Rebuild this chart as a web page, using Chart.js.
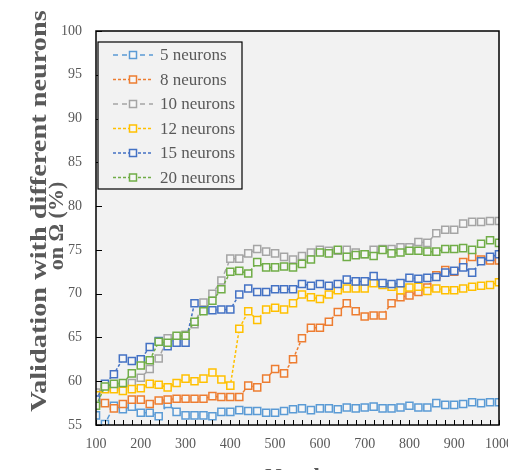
<!DOCTYPE html>
<html>
<head>
<meta charset="utf-8">
<script src="https://cdn.jsdelivr.net/npm/chart.js@4/dist/chart.umd.min.js"></script>
<style>
  html, body { margin: 0; padding: 0; background: #fff; overflow: hidden; }
  #wrap { width: 508px; height: 470px; position: relative; }
</style>
</head>
<body>
<div id="wrap"><canvas id="myChart"></canvas></div>
<script>
// x positions (every 20 from 100 to 1000)
const epochs = [];
for (let e = 100; e <= 1000; e += 20) epochs.push(e);

const xTicks = [100, 200, 300, 400, 500, 600, 700, 800, 900, 1000];
const yTicks = [55, 60, 65, 70, 75, 80, 85, 90, 95, 100];

const seriesNames = ['5 neurons', '8 neurons', '10 neurons', '12 neurons', '15 neurons', '20 neurons'];
const seriesColors = ['#5B9BD5', '#ED7D31', '#A5A5A5', '#FFC000', '#4472C4', '#70AD47'];

const n5 = [56.1, 55.1, 57.2, 56.8, 57.1, 56.4, 56.4, 56.0, 57.4, 56.5,
  56.1, 56.1, 56.1, 56.0, 56.5, 56.5, 56.7, 56.6, 56.6, 56.4,
  56.4, 56.6, 56.8, 56.9, 56.7, 56.9, 56.9, 56.8, 57.0, 56.9,
  57.0, 57.1, 56.9, 56.9, 57.0, 57.2, 57.0, 57.0, 57.5, 57.3,
  57.3, 57.4, 57.6, 57.5, 57.6, 57.6];
const n8 = [57.5, 57.5, 56.9, 57.4, 57.9, 57.9, 57.4, 57.8, 57.9, 58.0,
  58.0, 58.0, 58.0, 58.3, 58.2, 58.2, 58.2, 59.5, 59.3, 60.3,
  61.4, 60.9, 62.5, 64.9, 66.1, 66.1, 66.8, 67.9, 68.9, 68.0,
  67.4, 67.5, 67.5, 68.9, 69.6, 69.8, 70.2, 70.7, 72.1, 72.7,
  72.5, 73.6, 74.2, 73.9, 73.8, 73.8];
const n10 = [58.7, 59.4, 59.2, 59.4, 59.8, 60.4, 61.4, 62.6, 64.9, 65.0,
  65.3, 66.5, 69.0, 70.0, 71.5, 74.0, 74.0, 74.6, 75.1, 74.8,
  74.6, 74.2, 73.9, 74.3, 74.7, 75.0, 74.9, 74.9, 75.0, 74.7,
  74.5, 75.0, 75.1, 75.1, 75.3, 75.3, 75.9, 75.8, 76.9, 77.3,
  77.3, 78.0, 78.2, 78.2, 78.3, 78.3];
const n12 = [58.4, 59.1, 59.1, 58.9, 59.1, 59.2, 59.7, 59.6, 59.3, 59.8,
  60.3, 60.0, 60.3, 61.0, 60.2, 59.5, 66.0, 68.0, 67.0, 68.2,
  68.4, 68.2, 68.9, 69.9, 69.6, 69.4, 69.9, 70.4, 70.6, 70.6,
  70.6, 71.2, 71.0, 70.8, 70.4, 70.7, 70.8, 70.3, 70.6, 70.4,
  70.4, 70.6, 70.8, 70.9, 71.0, 71.3];
const n15 = [57.9, 59.7, 60.8, 62.6, 62.3, 62.5, 63.9, 64.6, 64.0, 64.4,
  64.4, 68.9, 68.1, 68.1, 68.2, 68.2, 69.9, 70.6, 70.2, 70.2,
  70.5, 70.5, 70.5, 71.1, 70.9, 71.1, 70.9, 71.1, 71.6, 71.4,
  71.4, 72.0, 71.2, 71.1, 71.2, 71.8, 71.7, 71.8, 71.9, 72.4,
  72.6, 73.0, 72.4, 73.7, 74.2, 74.5];
const n20 = [57.2, 59.4, 59.7, 59.8, 60.9, 61.8, 62.4, 64.5, 64.4, 65.2,
  65.2, 66.8, 68.0, 69.2, 70.5, 72.5, 72.6, 72.3, 73.6, 73.0,
  73.0, 73.1, 73.0, 73.4, 73.9, 74.7, 74.6, 75.0, 74.2, 74.4,
  74.5, 74.3, 75.0, 74.6, 74.7, 74.9, 74.9, 74.8, 74.8, 75.1,
  75.1, 75.2, 75.0, 75.7, 76.1, 75.8];

const allSeries = [n5, n8, n10, n12, n15, n20];
const dashes = [[5, 4], [3, 2], [5, 4], [3, 2], [3, 2], [3, 2]];

const labelColor = '#595959';
const serif = "'Liberation Serif', 'Times New Roman', serif";

const datasets = allSeries.map((vals, i) => ({
  label: seriesNames[i],
  data: vals.map((v, k) => ({ x: epochs[k], y: v })),
  borderColor: seriesColors[i],
  pointBorderColor: seriesColors[i],
  pointBackgroundColor: '#f6f6f6',
  borderWidth: 1.5,
  borderDash: dashes[i],
  pointStyle: 'rect',
  pointRadius: 5,
  pointBorderWidth: 1.5,
  tension: 0,
  fill: false,
  order: allSeries.length - i
}));

// frame, ticks, legend and axis titles
const decor = {
  id: 'decor',
  beforeDraw(chart) {
    const { ctx, chartArea: a } = chart;
    ctx.save();
    ctx.fillStyle = '#ffffff';
    ctx.fillRect(0, 0, chart.width, chart.height);
    ctx.fillStyle = '#f2f2f2';
    ctx.fillRect(a.left, a.top, a.right - a.left, a.bottom - a.top);
    ctx.restore();
  },
  afterDraw(chart) {
    const { ctx, chartArea: a } = chart;
    const xs = chart.scales.x, ys = chart.scales.y;
    ctx.save();
    // ticks inward
    ctx.strokeStyle = '#000';
    ctx.lineWidth = 1;
    ctx.beginPath();
    for (let e = 100; e <= 1000; e += 20) {
      const px = Math.round(xs.getPixelForValue(e)) + 0.5;
      ctx.moveTo(px, a.bottom);
      ctx.lineTo(px, a.bottom - 5);
    }
    yTicks.forEach(v => {
      const py = Math.round(ys.getPixelForValue(v)) + 0.5;
      ctx.moveTo(a.left, py);
      ctx.lineTo(a.left + 6, py);
    });
    ctx.stroke();
    // frame
    ctx.lineWidth = 1.5;
    ctx.strokeRect(a.left, a.top, a.right - a.left, a.bottom - a.top);

    // legend
    const lx = 98, ly = 42, lw = 144, lh = 147;
    ctx.fillStyle = '#f2f2f2';
    ctx.fillRect(lx, ly, lw, lh);
    ctx.lineWidth = 1.2;
    ctx.strokeStyle = '#000';
    ctx.strokeRect(lx, ly, lw, lh);
    ctx.font = '17px ' + serif;
    ctx.textBaseline = 'middle';
    seriesNames.forEach((name, i) => {
      const y = 55 + i * 24.5;
      ctx.strokeStyle = seriesColors[i];
      ctx.lineWidth = 1.5;
      ctx.setLineDash(dashes[i]);
      ctx.beginPath();
      ctx.moveTo(113, y);
      ctx.lineTo(153, y);
      ctx.stroke();
      ctx.setLineDash([]);
      ctx.fillStyle = '#f6f6f6';
      ctx.fillRect(129.5, y - 3.5, 7, 7);
      ctx.strokeRect(129.5, y - 3.5, 7, 7);
      ctx.fillStyle = labelColor;
      ctx.fillText(name, 160, y + 1);
    });

    // y title (two lines)
    ctx.fillStyle = labelColor;
    ctx.textAlign = 'center';
    ctx.textBaseline = 'middle';
    ctx.font = 'bold 24px ' + serif;
    ctx.save();
    ctx.translate(40, 211);
    ctx.rotate(-Math.PI / 2);
    ctx.scale(1.18, 1);
    ctx.fillText('Validation with different neurons', 0, 0);
    ctx.restore();
    ctx.font = 'bold 22px ' + serif;
    ctx.save();
    ctx.translate(57, 226);
    ctx.rotate(-Math.PI / 2);
    ctx.fillText('on \u03A9 (%)', 0, 0);
    ctx.restore();

    // x title, cut by the bottom edge
    ctx.font = 'bold 23px ' + serif;
    ctx.textBaseline = 'top';
    ctx.fillText('Number', 306, 467);
    ctx.restore();
  }
};

const ctx = document.getElementById('myChart');

new Chart(ctx, {
  type: 'line',
  data: { datasets: datasets },
  options: {
    responsive: true,
    maintainAspectRatio: false,
    animation: false,
    layout: { padding: { top: 31, right: 9, left: 0, bottom: 0 } },
    plugins: {
      legend: { display: false },
      tooltip: { enabled: false },
      title: { display: false }
    },
    scales: {
      x: {
        type: 'linear',
        min: 100,
        max: 1000,
        afterFit: s => { s.height = 45; s.paddingLeft = 0; s.paddingRight = 0; },
        afterBuildTicks: s => { s.ticks = xTicks.map(v => ({ value: v })); },
        ticks: {
          autoSkip: false,
          maxRotation: 0,
          padding: 11,
          color: labelColor,
          font: { family: serif, size: 14 },
          callback: v => String(v)
        },
        grid: { display: false, drawTicks: false },
        border: { display: false }
      },
      y: {
        min: 55,
        max: 100,
        afterFit: s => { s.width = 96; s.paddingTop = 0; s.paddingBottom = 0; },
        afterBuildTicks: s => { s.ticks = yTicks.map(v => ({ value: v })); },
        ticks: {
          padding: 14,
          color: labelColor,
          font: { family: serif, size: 14 },
          callback: v => String(v)
        },
        grid: { display: false, drawTicks: false },
        border: { display: false }
      }
    }
  },
  plugins: [decor]
});
</script>
</body>
</html>
